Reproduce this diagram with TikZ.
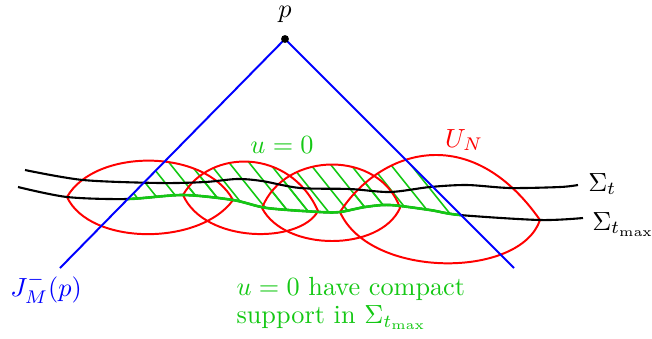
\documentclass[tikz,border=0pt]{standalone}
\usetikzlibrary{positioning}
\definecolor{suppgreen}{RGB}{20,200,20}
% lens shaped sets U_N
\def\lensA{(67,197) .. controls (95,148) and (205,148) .. (233,200) .. controls (200,246) and (90,246) .. (67,197)}
\def\lensB{(183,195) .. controls (210,148) and (290,148) .. (318,211) .. controls (300,244) and (205,244) .. (183,195)}
\def\lensC{(262,208) .. controls (285,150) and (380,150) .. (400,208) .. controls (380,252) and (285,252) .. (262,208)}
\def\lensD{(340,212) .. controls (380,150) and (470,120) .. (540,220) .. controls (520,279) and (370,279) .. (340,212)}
\begin{document}
\begin{tikzpicture}[x=0.381pt, y=-0.381pt,
    cone/.style={blue, line width=0.75pt},
    slice/.style={black, line width=0.8pt},
    lens/.style={red, line width=0.75pt},
    hatch/.style={suppgreen, line width=0.6pt}]
    \useasboundingbox (0,0) rectangle (652,338);

    % Past cone of p
    \coordinate (p) at (285,39);
    \coordinate (jl) at (60,268);
    \coordinate (jr) at (514,268);

    % Hatched support of u
    \begin{scope}
        \clip (p) -- (jl) -- (jr) -- cycle;
        \clip plot[smooth] coordinates {(18,187) (67,197) (127,199) (183,195) (233,200) (267,208) (320,212) (340,212) (365,207) (390,205) (430,210) (460,215) (540,220) (583,218)} -- (583,100) -- (18,100) -- cycle;
        \foreach \l in {\lensA,\lensB,\lensC,\lensD} {
            \begin{scope}
                \clip \l;
                \foreach \x in {91,111,...,511}
                    \draw[hatch] ({\x-40},140) -- ({\x+40},240);
            \end{scope}
        }
    \end{scope}

    % Lenses
    \draw[lens] \lensA;
    \draw[lens] \lensB;
    \draw[lens] \lensC;
    \draw[lens] \lensD;

    % Slices
    \draw[slice] plot[smooth] coordinates {(25,170) (83,180) (160,183) (205,182) (237,179) (262,181) (300,188) (350,189) (390,192) (430,187) (467,185) (510,188) (560,187) (578,185)};
    \draw[slice] plot[smooth] coordinates {(18,187) (67,197) (127,199) (183,195) (233,200) (267,208) (320,212) (340,212) (365,207) (390,205) (430,210) (460,215) (540,220) (583,218)};
    \begin{scope}
        \clip (p) -- (jl) -- (jr) -- cycle;
        \draw[suppgreen, line width=1pt] plot[smooth] coordinates {(18,187) (67,197) (127,199) (183,195) (233,200) (267,208) (320,212) (340,212) (365,207) (390,205) (430,210) (460,215) (540,220) (583,218)};
    \end{scope}

    \draw[cone] (jl) -- (p) -- (jr);
    \fill (p) circle (1.5pt);

    % Labels
    \node[above=5pt, inner sep=1pt] (plabel) at (p) {$p$};
    \node[blue, anchor=base] (jlabel) at (46,296) {$J^-_M(p)$};
    \node[suppgreen] (ulabel) at (282,145) {$u=0$};
    \node[red] (unlabel) at (464,140) {$U_N$};
    \node[anchor=base west] (sigt) at (579,191) {$\Sigma_t$};
    \node[anchor=base west] (sigmax) at (583,230) {$\Sigma_{t_{\max}}$};
    \node[suppgreen, align=left, anchor=north west, inner sep=0pt] (note) at (236,277) {$u=0$ have compact\\[-1.5pt]support in $\Sigma_{t_{\max}}$};
\end{tikzpicture}
\end{document}
